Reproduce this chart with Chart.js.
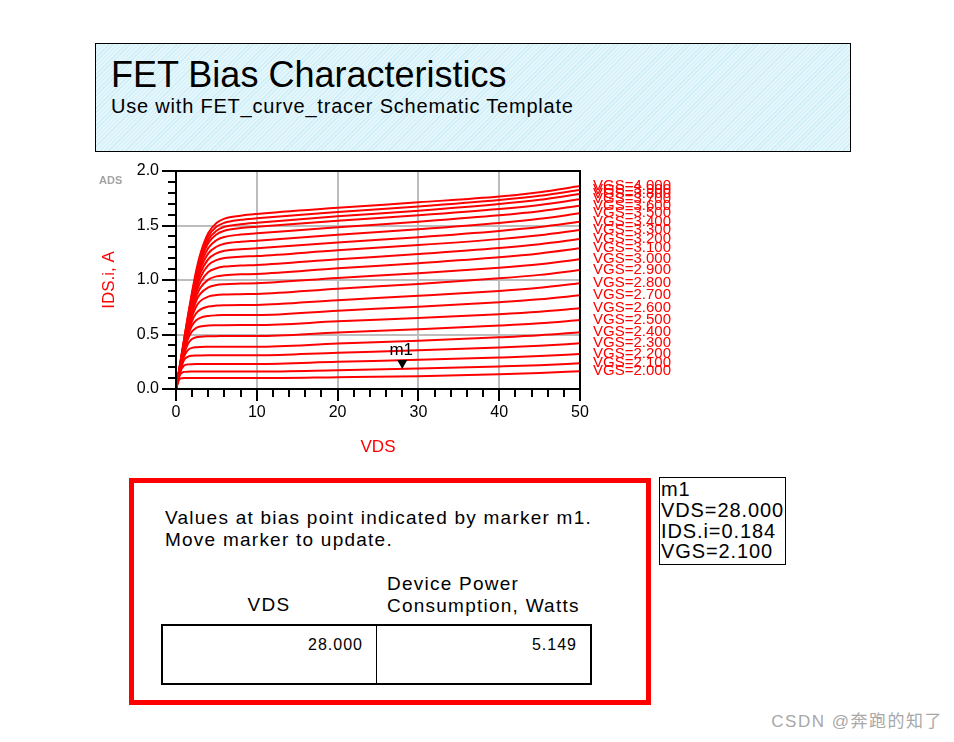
<!DOCTYPE html>
<html>
<head>
<meta charset="utf-8">
<script src="https://cdn.jsdelivr.net/npm/chart.js@4"></script>
<style>
  html, body { margin: 0; padding: 0; background: #fff; }
  body { width: 954px; height: 742px; position: relative; overflow: hidden; font-family: "Liberation Sans", Arial, sans-serif; color: #000; }
  .t { position: absolute; line-height: 1; white-space: pre; }
  #header { position: absolute; left: 95px; top: 43px; width: 756px; height: 109px; box-sizing: border-box; border: 1px solid #000;
    background: repeating-linear-gradient(135deg, #d0eef8 0px, #d0eef8 1px, #e3f6fb 1px, #e3f6fb 3px); }
  #redbox { position: absolute; left: 129px; top: 478px; width: 522px; height: 227px; box-sizing: border-box; border: 5px solid #ff0000; }
  #tbl { position: absolute; left: 161px; top: 624px; width: 431px; height: 61px; box-sizing: border-box; border: 2px solid #000; }
  #tdiv { position: absolute; left: 376px; top: 625px; width: 1px; height: 59px; background: #000; }
  #m1box { position: absolute; left: 659px; top: 477px; width: 127px; height: 88px; box-sizing: border-box; border: 1px solid #000; }
  #chartWrap { position: absolute; left: 90px; top: 160px; width: 600px; height: 300px; }
  .bx { font-size: 19px; letter-spacing: 1.24px; }
</style>
</head>
<body>
<div id="header"></div>
<div class="t" style="left:111px; top:57px; font-size:36px;">FET Bias Characteristics</div>
<div class="t" style="left:111px; top:96px; font-size:20px; letter-spacing:0.8px;">Use with FET_curve_tracer Schematic Template</div>

<div id="chartWrap"><canvas id="c" width="600" height="300"></canvas></div>

<div id="redbox"></div>
<div class="t bx" style="left:165px; top:508px;">Values at bias point indicated by marker m1.</div>
<div class="t bx" style="left:165px; top:530px;">Move marker to update.</div>
<div class="t bx" style="left:229px; top:595px; width:80px; text-align:center;">VDS</div>
<div class="t bx" style="left:387px; top:574px;">Device Power</div>
<div class="t bx" style="left:387px; top:596px;">Consumption, Watts</div>
<div id="tbl"></div>
<div id="tdiv"></div>
<div class="t" id="vdsCell" style="left:200px; top:637px; width:163px; text-align:right; font-size:16px; letter-spacing:1px;"></div>
<div class="t" id="pwrCell" style="left:400px; top:637px; width:177px; text-align:right; font-size:16px; letter-spacing:1px;"></div>

<div id="m1box"></div>
<div class="t" id="m1l0" style="left:661px; top:479px; font-size:20px; letter-spacing:0.9px;"></div>
<div class="t" id="m1l1" style="left:661px; top:500px; font-size:20px; letter-spacing:0.9px;"></div>
<div class="t" id="m1l2" style="left:661px; top:521px; font-size:20px; letter-spacing:0.9px;"></div>
<div class="t" id="m1l3" style="left:661px; top:541px; font-size:20px; letter-spacing:0.9px;"></div>

<div class="t" style="right:11px; top:713px; font-size:17px; letter-spacing:1.5px; color:#a8a8a8; font-family:'Liberation Sans','Noto Sans CJK SC',sans-serif;">CSDN @奔跑的知了</div>

<script>
// ---------------- data ----------------
const vgsValues = [2.0, 2.1, 2.2, 2.3, 2.4, 2.5, 2.6, 2.7, 2.8, 2.9, 3.0, 3.1, 3.2, 3.3, 3.4, 3.5, 3.6, 3.7, 3.8, 3.9, 4.0];
const vdsPoints = [0, 0.5, 1, 1.5, 2, 2.5, 3, 4, 5, 6, 8, 10, 20, 30, 40, 45, 50];
const idsCurves = [
  [0, 0.096, 0.100, 0.100, 0.100, 0.100, 0.100, 0.100, 0.100, 0.100, 0.100, 0.100, 0.108, 0.118, 0.135, 0.147, 0.163],
  [0, 0.132, 0.157, 0.159, 0.160, 0.160, 0.160, 0.160, 0.160, 0.160, 0.160, 0.160, 0.172, 0.187, 0.207, 0.219, 0.236],
  [0, 0.150, 0.215, 0.226, 0.228, 0.229, 0.229, 0.229, 0.229, 0.229, 0.229, 0.229, 0.249, 0.268, 0.289, 0.302, 0.321],
  [0, 0.159, 0.266, 0.297, 0.305, 0.307, 0.308, 0.309, 0.309, 0.309, 0.309, 0.309, 0.333, 0.355, 0.381, 0.397, 0.419],
  [0, 0.165, 0.298, 0.359, 0.377, 0.383, 0.386, 0.387, 0.388, 0.388, 0.388, 0.388, 0.417, 0.443, 0.474, 0.493, 0.520],
  [0, 0.170, 0.322, 0.418, 0.459, 0.474, 0.480, 0.484, 0.485, 0.486, 0.486, 0.486, 0.518, 0.548, 0.582, 0.603, 0.633],
  [0, 0.173, 0.338, 0.462, 0.530, 0.560, 0.573, 0.583, 0.585, 0.586, 0.587, 0.587, 0.621, 0.651, 0.686, 0.709, 0.740],
  [0, 0.178, 0.349, 0.492, 0.584, 0.631, 0.653, 0.670, 0.676, 0.678, 0.679, 0.679, 0.719, 0.755, 0.797, 0.823, 0.860],
  [0, 0.182, 0.360, 0.516, 0.628, 0.695, 0.729, 0.756, 0.765, 0.768, 0.770, 0.771, 0.815, 0.855, 0.900, 0.929, 0.970],
  [0, 0.186, 0.369, 0.537, 0.667, 0.757, 0.806, 0.848, 0.862, 0.867, 0.870, 0.872, 0.920, 0.964, 1.015, 1.047, 1.092],
  [0, 0.190, 0.378, 0.555, 0.702, 0.808, 0.872, 0.932, 0.954, 0.962, 0.967, 0.970, 1.018, 1.062, 1.113, 1.145, 1.190],
  [0, 0.194, 0.387, 0.570, 0.728, 0.847, 0.927, 1.004, 1.033, 1.043, 1.052, 1.055, 1.107, 1.154, 1.208, 1.243, 1.291],
  [0, 0.198, 0.395, 0.584, 0.751, 0.883, 0.976, 1.073, 1.108, 1.123, 1.133, 1.138, 1.190, 1.238, 1.293, 1.328, 1.376],
  [0, 0.202, 0.403, 0.597, 0.773, 0.916, 1.022, 1.137, 1.182, 1.202, 1.214, 1.220, 1.273, 1.320, 1.375, 1.410, 1.459],
  [0, 0.206, 0.411, 0.609, 0.793, 0.946, 1.060, 1.192, 1.245, 1.268, 1.283, 1.291, 1.345, 1.393, 1.450, 1.486, 1.535],
  [0, 0.210, 0.419, 0.622, 0.812, 0.973, 1.097, 1.244, 1.305, 1.332, 1.351, 1.361, 1.416, 1.466, 1.524, 1.561, 1.612],
  [0, 0.214, 0.427, 0.635, 0.830, 0.998, 1.131, 1.294, 1.365, 1.395, 1.417, 1.428, 1.484, 1.535, 1.593, 1.630, 1.682],
  [0, 0.218, 0.435, 0.648, 0.849, 1.024, 1.163, 1.339, 1.418, 1.452, 1.476, 1.489, 1.544, 1.594, 1.652, 1.689, 1.740],
  [0, 0.222, 0.443, 0.659, 0.864, 1.044, 1.187, 1.369, 1.451, 1.488, 1.512, 1.526, 1.584, 1.636, 1.697, 1.736, 1.789],
  [0, 0.226, 0.451, 0.672, 0.879, 1.065, 1.212, 1.400, 1.488, 1.525, 1.552, 1.566, 1.623, 1.675, 1.735, 1.773, 1.826],
  [0, 0.230, 0.458, 0.684, 0.895, 1.086, 1.237, 1.431, 1.522, 1.563, 1.590, 1.606, 1.662, 1.713, 1.766, 1.806, 1.862]
];
const xMajorTicks = [0, 10, 20, 30, 40, 50];
const yMajorTicks = [0.0, 0.5, 1.0, 1.5, 2.0];
const markerName = "m1";
const markerVds = 28.000;
const markerIds = 0.184;
const markerVgs = 2.100;
const biasVds = 28.000;
const biasPower = 5.149;

// ---------------- text fields ----------------
document.getElementById('vdsCell').textContent = biasVds.toFixed(3);
document.getElementById('pwrCell').textContent = biasPower.toFixed(3);
document.getElementById('m1l0').textContent = markerName;
document.getElementById('m1l1').textContent = 'VDS=' + markerVds.toFixed(3);
document.getElementById('m1l2').textContent = 'IDS.i=' + markerIds.toFixed(3);
document.getElementById('m1l3').textContent = 'VGS=' + markerVgs.toFixed(3);

// ---------------- chart ----------------
const FONT = "'Liberation Sans', Arial, sans-serif";
Chart.defaults.font.family = FONT;
Chart.defaults.color = '#000';

const near = (v, arr) => arr.some(a => Math.abs(a - v) < 1e-6);
const isMajX = v => near(v, xMajorTicks);
const isMajY = v => near(v, yMajorTicks);

const datasets = vgsValues.map((vg, i) => ({
  label: 'VGS=' + vg.toFixed(3),
  data: vdsPoints.map((vd, j) => ({ x: vd, y: idsCurves[i][j] })),
  borderColor: '#ff0000',
  borderWidth: 2,
  pointRadius: 0,
  fill: false,
  cubicInterpolationMode: 'monotone'
}));

const overlay = {
  id: 'overlay',
  afterDraw(chart) {
    const { ctx, chartArea: a, scales: { x, y } } = chart;
    ctx.save();
    // tick marks
    ctx.strokeStyle = '#000';
    ctx.lineWidth = 2;
    y.ticks.forEach(t => {
      const py = Math.round(y.getPixelForValue(t.value));
      const len = isMajY(t.value) ? 14 : 8;
      ctx.beginPath(); ctx.moveTo(a.left - len, py); ctx.lineTo(a.left, py); ctx.stroke();
    });
    x.ticks.forEach(t => {
      const px = Math.round(x.getPixelForValue(t.value));
      const len = isMajX(t.value) ? 12 : 8;
      ctx.beginPath(); ctx.moveTo(px, a.bottom); ctx.lineTo(px, a.bottom + len); ctx.stroke();
    });
    // plot frame
    ctx.strokeRect(a.left, a.top, a.right - a.left, a.bottom - a.top);

    // curve end labels
    ctx.fillStyle = '#ff0000';
    ctx.font = '15px ' + FONT;
    ctx.textBaseline = 'middle';
    ctx.textAlign = 'left';
    vgsValues.forEach((vg, i) => {
      const row = idsCurves[i];
      const py = y.getPixelForValue(row[row.length - 1]);
      ctx.fillText('VGS=' + vg.toFixed(3), a.right + 13, py);
    });

    // axis titles
    ctx.font = '17px ' + FONT;
    ctx.textAlign = 'center';
    ctx.fillText('VDS', (a.left + a.right) / 2, a.bottom + 58);
    ctx.save();
    ctx.translate(19, (a.top + a.bottom) / 2);
    ctx.rotate(-Math.PI / 2);
    ctx.fillText('IDS.i, A', 0, 0);
    ctx.restore();

    // ADS logo text
    ctx.fillStyle = '#a3a3a3';
    ctx.font = 'bold 11px ' + FONT;
    ctx.textAlign = 'left';
    ctx.fillText('ADS', 9, 21);

    // marker m1
    const mx = x.getPixelForValue(markerVds);
    const my = y.getPixelForValue(markerIds);
    ctx.fillStyle = '#000';
    ctx.beginPath();
    ctx.moveTo(mx - 5, my - 9);
    ctx.lineTo(mx + 5, my - 9);
    ctx.lineTo(mx, my);
    ctx.closePath();
    ctx.fill();
    ctx.font = '17px ' + FONT;
    ctx.textAlign = 'center';
    ctx.textBaseline = 'alphabetic';
    ctx.fillText(markerName, mx - 1, my - 14);
    ctx.restore();
  }
};

new Chart(document.getElementById('c'), {
  type: 'line',
  data: { datasets },
  options: {
    responsive: false,
    animation: false,
    events: [],
    layout: { padding: { left: 0, right: 110, top: 11, bottom: 0 } },
    plugins: { legend: { display: false }, tooltip: { enabled: false }, title: { display: false } },
    scales: {
      x: {
        type: 'linear', min: 0, max: 50,
        afterFit: s => { s.height = 71; s.paddingLeft = 0; s.paddingRight = 0; },
        border: { display: false },
        grid: {
          drawTicks: false, lineWidth: 2,
          color: c => (isMajX(c.tick.value) && c.tick.value > 0 && c.tick.value < 50) ? '#bdbdbd' : 'rgba(0,0,0,0)'
        },
        ticks: {
          stepSize: 2, autoSkip: false, maxTicksLimit: 100, maxRotation: 0, padding: 14,
          font: { size: 16 }, color: '#000',
          callback: v => isMajX(v) ? String(Math.round(v)) : ''
        }
      },
      y: {
        type: 'linear', min: 0, max: 2,
        afterFit: s => { s.width = 86; s.paddingTop = 0; s.paddingBottom = 0; },
        border: { display: false },
        grid: {
          drawTicks: false, lineWidth: 2,
          color: c => (isMajY(c.tick.value) && c.tick.value > 0.01 && c.tick.value < 1.99) ? '#bdbdbd' : 'rgba(0,0,0,0)'
        },
        ticks: {
          stepSize: 0.1, autoSkip: false, maxTicksLimit: 100, padding: 17,
          font: { size: 16 }, color: '#000',
          callback: v => isMajY(v) ? v.toFixed(1) : ''
        }
      }
    }
  },
  plugins: [overlay]
});
</script>
</body>
</html>
